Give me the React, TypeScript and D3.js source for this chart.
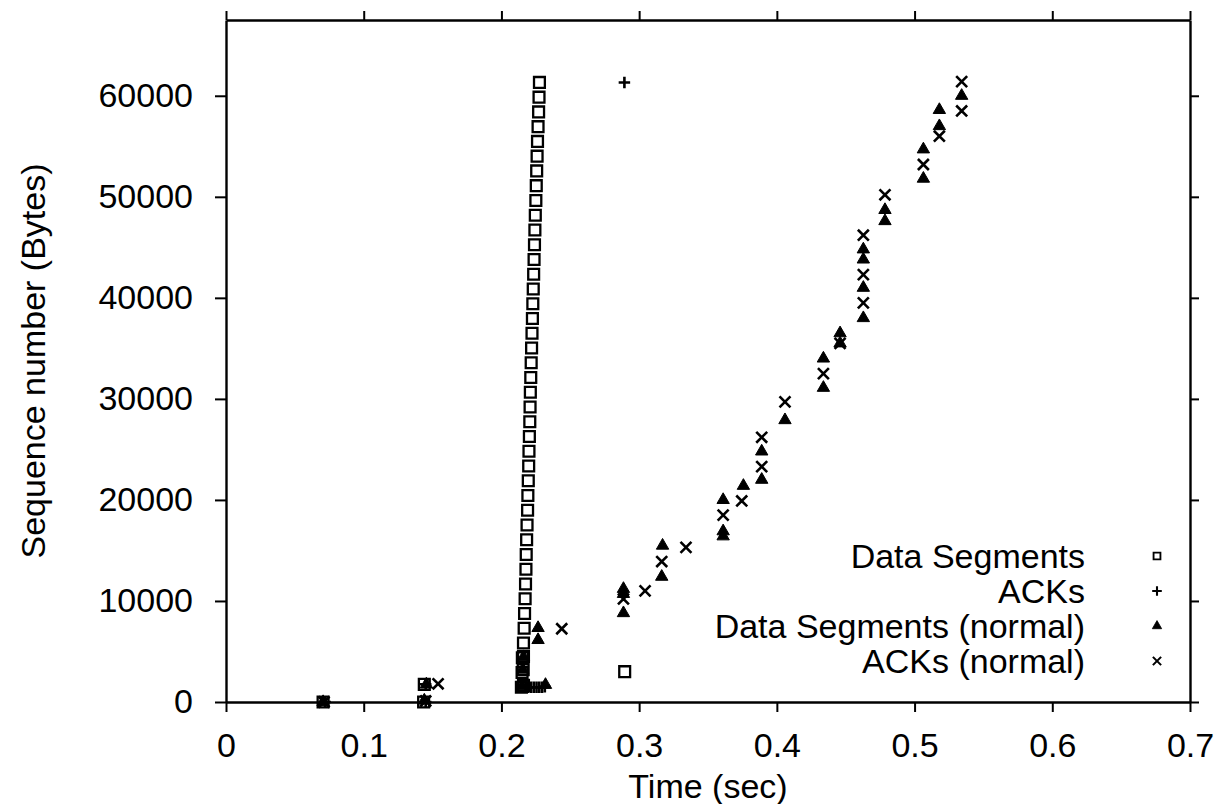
import React, { useEffect, useRef } from "react";
import * as d3 from "d3";

// [time (sec), sequence number (bytes)]
const dataSegments: [number, number][] = [
  [0.0705, 0], [0.1435, 0], [0.1440, 1750],
  [0.2145, 1460], [0.2160, 1650], [0.2150, 2920], [0.2158, 3200],
  [0.2152, 4380], [0.2160, 4500], [0.2160, 5840], [0.2165, 7300],
  [0.2168, 8760], [0.2172, 10220], [0.2175, 11680], [0.2178, 13140],
  [0.2180, 14600], [0.2183, 16060], [0.2186, 17520], [0.2190, 18980],
  [0.2192, 20440], [0.2195, 21900], [0.2198, 23360], [0.2200, 24820],
  [0.2203, 26280], [0.2206, 27740], [0.2208, 29200], [0.2210, 30660],
  [0.2213, 32120], [0.2216, 33580], [0.2219, 35040], [0.2222, 36500],
  [0.2225, 37960], [0.2228, 39420], [0.2231, 40880], [0.2234, 42340],
  [0.2237, 43800], [0.2240, 45260], [0.2243, 46720], [0.2246, 48180],
  [0.2250, 49640], [0.2253, 51100], [0.2256, 52560], [0.2259, 54020],
  [0.2262, 55480], [0.2266, 56940], [0.2270, 58400], [0.2273, 59860],
  [0.2276, 61320],
  [0.2895, 3000],
];

const acks: [number, number][] = [
  [0.0720, 0], [0.1450, 0], [0.1450, 1750],
  [0.2175, 1460], [0.2195, 1460], [0.2215, 1460], [0.2235, 1460],
  [0.2255, 1460], [0.2275, 1460], [0.2295, 1460], [0.2315, 1500],
  [0.2893, 61320],
];

const dataSegmentsNormal: [number, number][] = [
  [0.0705, 0], [0.1440, 150], [0.1455, 1750],
  [0.2150, 1600], [0.2155, 3200], [0.2160, 4450], [0.2320, 1700],
  [0.2266, 6140], [0.2266, 7330],
  [0.2886, 8800], [0.2886, 10700], [0.2886, 11200],
  [0.3164, 12400], [0.3170, 15480],
  [0.3610, 16400], [0.3610, 16900], [0.3610, 20000],
  [0.3757, 21400],
  [0.3890, 22000], [0.3890, 24800],
  [0.4059, 27900],
  [0.4338, 31100], [0.4338, 34000],
  [0.4459, 35500], [0.4459, 36500],
  [0.4628, 38000], [0.4628, 41000], [0.4628, 43800], [0.4628, 44800],
  [0.4785, 47600], [0.4785, 48700],
  [0.5064, 51800], [0.5064, 54700],
  [0.5180, 57000], [0.5180, 58600],
  [0.5342, 60000],
];

const acksNormal: [number, number][] = [
  [0.0712, 0], [0.1450, 100], [0.1540, 1800],
  [0.2438, 7250],
  [0.2886, 10200],
  [0.3043, 11000],
  [0.3164, 13900],
  [0.3340, 15300],
  [0.3610, 18500],
  [0.3745, 19900],
  [0.3890, 23300], [0.3890, 26200],
  [0.4059, 29700],
  [0.4338, 32500],
  [0.4459, 35500],
  [0.4628, 39500], [0.4628, 42300], [0.4628, 46200],
  [0.4785, 50200],
  [0.5064, 53200],
  [0.5180, 56000],
  [0.5342, 58500], [0.5342, 61400],
];

const xTicks = [0, 0.1, 0.2, 0.3, 0.4, 0.5, 0.6, 0.7];
const xTickLabels = ["0", "0.1", "0.2", "0.3", "0.4", "0.5", "0.6", "0.7"];
const yTicks = [0, 10000, 20000, 30000, 40000, 50000, 60000];
const yTickLabels = ["0", "10000", "20000", "30000", "40000", "50000", "60000"];
const legendLabels = ["Data Segments", "ACKs", "Data Segments (normal)", "ACKs (normal)"];

const font = "'Liberation Sans', Arial, Helvetica, sans-serif";

export default function App() {
  const ref = useRef<SVGSVGElement>(null);

  useEffect(() => {
    const width = 1216, height = 804;
    const margin = { top: 20, right: 26, bottom: 102, left: 226 };
    const svg = d3.select(ref.current);
    svg.selectAll("*").remove();

    const x = d3.scaleLinear().domain([0, 0.7]).range([margin.left, width - margin.right]);
    const y = d3.scaleLinear().domain([0, 67500]).range([height - margin.bottom, margin.top]);

    const styleAxis = (g) => {
      g.attr("font-size", 34).attr("font-family", font);
      g.selectAll("path").attr("stroke", "#000").attr("stroke-width", 2.4);
      g.selectAll("line").attr("stroke", "#000").attr("stroke-width", 2);
      g.selectAll("text").attr("fill", "#000");
    };

    svg.append("g")
      .attr("transform", `translate(0,${y(0)})`)
      .call(d3.axisBottom(x).tickValues(xTicks).tickFormat((d, i) => xTickLabels[i])
        .tickSize(10).tickSizeOuter(0).tickPadding(21))
      .call(styleAxis);
    svg.append("g")
      .attr("transform", `translate(0,${y.range()[1]})`)
      .call(d3.axisTop(x).tickValues(xTicks).tickFormat(() => "").tickSize(9).tickSizeOuter(0))
      .call(styleAxis);
    svg.append("g")
      .attr("transform", `translate(${x(0)},0)`)
      .call(d3.axisLeft(y).tickValues(yTicks).tickFormat((d, i) => yTickLabels[i])
        .tickSize(11).tickSizeOuter(0).tickPadding(22))
      .call(styleAxis);
    svg.append("g")
      .attr("transform", `translate(${x(0.7)},0)`)
      .call(d3.axisRight(y).tickValues(yTicks).tickFormat(() => "").tickSize(9).tickSizeOuter(0))
      .call(styleAxis);

    // axis titles
    svg.append("text")
      .attr("x", (x.range()[0] + x.range()[1]) / 2)
      .attr("y", 798)
      .attr("text-anchor", "middle")
      .attr("font-family", font).attr("font-size", 34)
      .text("Time (sec)");
    svg.append("text")
      .attr("transform", `translate(45,${(y.range()[0] + y.range()[1]) / 2}) rotate(-90)`)
      .attr("text-anchor", "middle")
      .attr("font-family", font).attr("font-size", 34)
      .text("Sequence number (Bytes)");

    const series = [
      { data: dataSegments, type: d3.symbolSquare2, size: 150, legendSize: 60, fill: "none", sw: 2.3 },
      { data: acks, type: d3.symbolPlus, size: 45, legendSize: 32, fill: "none", sw: 2.6 },
      { data: dataSegmentsNormal, type: d3.symbolTriangle, size: 66, legendSize: 38, fill: "#000", sw: 1 },
      { data: acksNormal, type: d3.symbolX, size: 80, legendSize: 46, fill: "none", sw: 2.6 },
    ];

    series.forEach((s) => {
      svg.append("g")
        .selectAll("path")
        .data(s.data)
        .join("path")
        .attr("transform", (d) => `translate(${x(d[0])},${y(d[1])})`)
        .attr("d", d3.symbol(s.type, s.size)())
        .attr("fill", s.fill)
        .attr("stroke", "#000")
        .attr("stroke-width", s.sw);
    });

    // legend
    const legend = svg.append("g");
    legendLabels.forEach((label, i) => {
      const ly = 556 + i * 35;
      legend.append("text")
        .attr("x", 1085).attr("y", ly).attr("dy", "0.35em")
        .attr("text-anchor", "end")
        .attr("font-family", font).attr("font-size", 34)
        .text(label);
      legend.append("path")
        .attr("transform", `translate(1157,${ly})`)
        .attr("d", d3.symbol(series[i].type, series[i].legendSize)())
        .attr("fill", series[i].fill)
        .attr("stroke", "#000")
        .attr("stroke-width", series[i].sw * 0.8);
    });
  }, []);

  return (
    <div style={{ position: "absolute", left: 0, top: 0 }}>
      <svg ref={ref} width={1216} height={804} style={{ display: "block", background: "#fff" }}></svg>
    </div>
  );
}
